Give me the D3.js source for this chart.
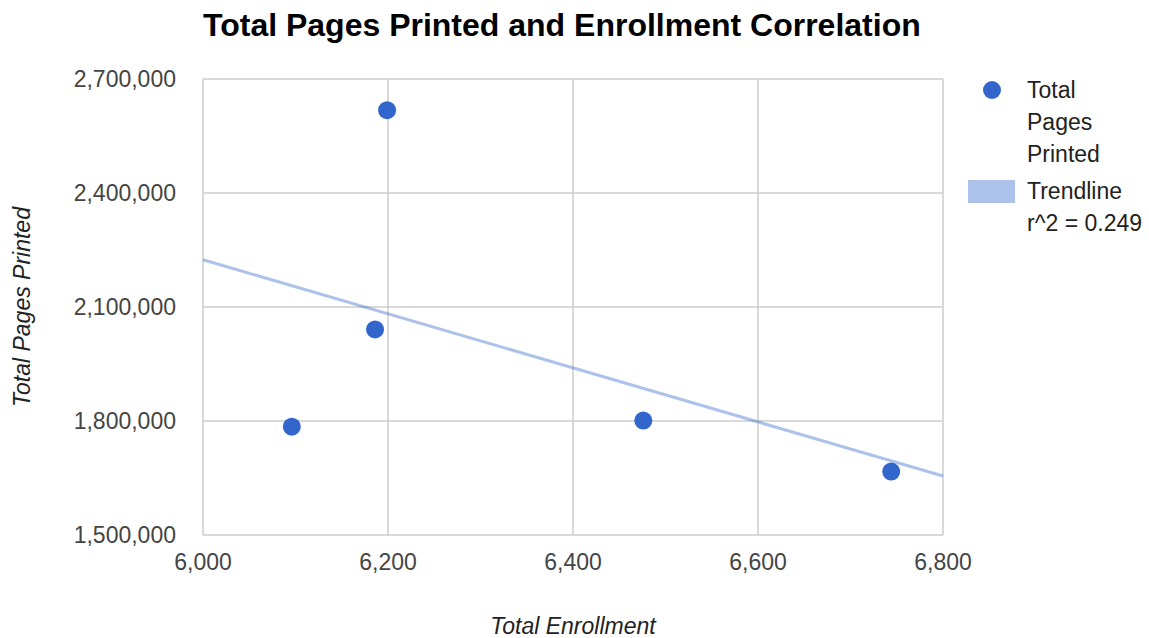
<!DOCTYPE html>
<html>
<head>
<meta charset="utf-8">
<script src="https://cdn.jsdelivr.net/npm/d3@7"></script>
<style>
    body { margin: 0; background: #fff; }
    svg text { font-family: "Liberation Sans", Arial, sans-serif; }
</style>
</head>
<body>
<div id="chart"></div>
<script>
// data
const enrollment = [6096, 6186, 6199, 6476, 6744];
const pagesPrinted = [1785000, 2041000, 2618000, 1801000, 1667000];
const xTicks = [6000, 6200, 6400, 6600, 6800];
const yTicks = [1500000, 1800000, 2100000, 2400000, 2700000];
const legendSeries = ["Total", "Pages", "Printed"];
const legendTrend = ["Trendline", "r^2 = 0.249"];

const width = 1149, height = 638;
const margin = {top: 79, right: 206, bottom: 103, left: 203};

const svg = d3.select("#chart").append("svg")
    .attr("width", width)
    .attr("height", height);

const x = d3.scaleLinear().domain([6000, 6800]).range([margin.left, width - margin.right]);
const y = d3.scaleLinear().domain([1500000, 2700000]).range([height - margin.bottom, margin.top]);

// grid
svg.append("g").selectAll("line.v")
    .data(xTicks)
    .join("line")
    .attr("x1", d => x(d)).attr("x2", d => x(d))
    .attr("y1", y(2700000)).attr("y2", y(1500000))
    .attr("stroke", "#cccccc").attr("stroke-width", 1.5);
svg.append("g").selectAll("line.h")
    .data(yTicks)
    .join("line")
    .attr("x1", x(6000)).attr("x2", x(6800))
    .attr("y1", d => y(d)).attr("y2", d => y(d))
    .attr("stroke", "#cccccc").attr("stroke-width", 1.5);

// tick labels
const fmt = d3.format(",");
svg.append("g").selectAll("text")
    .data(xTicks)
    .join("text")
    .attr("x", d => x(d))
    .attr("y", height - margin.bottom + 35)
    .attr("text-anchor", "middle")
    .attr("font-size", 23)
    .attr("fill", "#444")
    .text(d => fmt(d));
svg.append("g").selectAll("text")
    .data(yTicks)
    .join("text")
    .attr("x", margin.left - 27)
    .attr("y", d => y(d) + 8)
    .attr("text-anchor", "end")
    .attr("font-size", 23)
    .attr("fill", "#444")
    .text(d => fmt(d));

// linear trendline (least squares)
const mx = d3.mean(enrollment), my = d3.mean(pagesPrinted);
const sxy = d3.sum(enrollment, (v, i) => (v - mx) * (pagesPrinted[i] - my));
const sxx = d3.sum(enrollment, v => (v - mx) * (v - mx));
const slope = sxy / sxx, intercept = my - slope * mx;
svg.append("line")
    .attr("x1", x(6000)).attr("y1", y(intercept + slope * 6000))
    .attr("x2", x(6800)).attr("y2", y(intercept + slope * 6800))
    .attr("stroke", "#3366cc").attr("stroke-opacity", 0.4).attr("stroke-width", 3);

// points
svg.append("g").selectAll("circle")
    .data(enrollment)
    .join("circle")
    .attr("cx", d => x(d))
    .attr("cy", (d, i) => y(pagesPrinted[i]))
    .attr("r", 9)
    .attr("fill", "#3366cc");

// title
svg.append("text")
    .attr("x", margin.left)
    .attr("y", 36)
    .attr("font-size", 32)
    .attr("font-weight", "bold")
    .attr("fill", "#000")
    .text("Total Pages Printed and Enrollment Correlation");

// axis titles
svg.append("text")
    .attr("x", (x(6000) + x(6800)) / 2)
    .attr("y", 634)
    .attr("text-anchor", "middle")
    .attr("font-size", 23)
    .attr("font-style", "italic")
    .attr("fill", "#222")
    .text("Total Enrollment");
svg.append("text")
    .attr("transform", "translate(30," + ((y(1500000) + y(2700000)) / 2) + ") rotate(-90)")
    .attr("text-anchor", "middle")
    .attr("font-size", 23)
    .attr("font-style", "italic")
    .attr("fill", "#222")
    .text("Total Pages Printed");

// legend
const legend = svg.append("g");
legend.append("circle")
    .attr("cx", 992).attr("cy", 90).attr("r", 9)
    .attr("fill", "#3366cc");
legend.selectAll("text.s")
    .data(legendSeries)
    .join("text")
    .attr("x", 1027)
    .attr("y", (d, i) => 98 + i * 32)
    .attr("font-size", 23)
    .attr("fill", "#222")
    .text(d => d);
legend.append("rect")
    .attr("x", 968).attr("y", 180).attr("width", 47).attr("height", 23)
    .attr("fill", "#3366cc").attr("fill-opacity", 0.4);
legend.selectAll("text.t")
    .data(legendTrend)
    .join("text")
    .attr("x", 1027)
    .attr("y", (d, i) => 199 + i * 32)
    .attr("font-size", 23)
    .attr("fill", "#222")
    .text(d => d);
</script>
</body>
</html>
